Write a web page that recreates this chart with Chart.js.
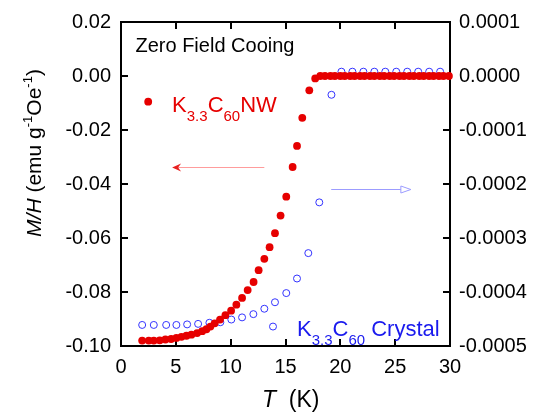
<!DOCTYPE html>
<html>
<head>
<meta charset="utf-8">
<script src="https://cdn.jsdelivr.net/npm/chart.js@4.4.1/dist/chart.umd.min.js"></script>
<style>
  html, body { margin: 0; padding: 0; background: #fff; }
  canvas { display: block; }
</style>
</head>
<body>
<canvas id="c" width="538" height="416"></canvas>
<script>
// K3.3C60 nanowire, M/H (emu g-1 Oe-1), left axis
const nwT = [1.93, 2.53, 2.99, 3.53, 4.05, 4.57, 5.05, 5.51, 5.97, 6.42, 6.94, 7.40, 7.79, 8.15, 8.54,
  9.03, 9.52, 10.04, 10.52, 11.04, 11.55, 12.09, 12.55, 13.07, 13.55, 14.04, 14.55, 15.07, 15.65,
  16.05, 16.53, 17.17, 17.71, 18.17, 18.6, 19.1, 19.5, 20.0, 20.4, 20.9, 21.3, 21.8, 22.2, 22.7,
  23.1, 23.6, 24.0, 24.5, 24.9, 25.4, 25.8, 26.3, 26.7, 27.2, 27.6, 28.1, 28.5, 29.0, 29.4, 29.9];
const nwMH = [-0.0980, -0.0980, -0.0980, -0.0979, -0.0976, -0.0974, -0.0970, -0.0966, -0.0962, -0.0958,
  -0.0952, -0.0945, -0.0938, -0.0928, -0.0916, -0.0902, -0.0886, -0.0869, -0.0847, -0.0822, -0.0793,
  -0.0763, -0.0719, -0.0677, -0.0634, -0.0582, -0.0517, -0.0447, -0.0337, -0.0259, -0.0155, -0.0053,
  -0.0009, 0.0000, 0.0000, 0.0000, 0.0000, 0.0000, 0.0000, 0.0000, 0.0000, 0.0000, 0.0000, 0.0000,
  0.0000, 0.0000, 0.0000, 0.0000, 0.0000, 0.0000, 0.0000, 0.0000, 0.0000, 0.0000, 0.0000, 0.0000,
  0.0000, 0.0000, 0.0000, 0.0000];

// K3.3C60 crystal, right axis
const crT = [1.93, 2.99, 4.12, 5.05, 6.03, 7.03, 8.06, 9.06, 10.06, 11.04, 12.07, 13.07, 13.86, 14.04,
  15.07, 16.05, 17.08, 18.08, 19.19, 20.1, 21.1, 22.1, 23.1, 24.1, 25.1, 26.1, 27.1, 28.1, 29.1];
const crMH = [-0.000461, -0.000461, -0.000461, -0.000461, -0.000460, -0.000459, -0.000457, -0.000456,
  -0.000451, -0.000447, -0.000441, -0.000431, -0.000464, -0.000419, -0.000402, -0.000375, -0.000328,
  -0.000234, -0.0000348, 0.000008, 0.000008, 0.000008, 0.000008, 0.000008, 0.000008, 0.000008,
  0.000008, 0.000008, 0.000008];

const xTicks = [0, 5, 10, 15, 20, 25, 30];
const yTicks = [0.02, 0.00, -0.02, -0.04, -0.06, -0.08, -0.10];
const y2Ticks = [0.0001, 0.0000, -0.0001, -0.0002, -0.0003, -0.0004, -0.0005];

const FONT = "'Liberation Sans', Arial, Helvetica, sans-serif";
const RED = '#e60000';
const BLUE = '#3333ff';
const TEXT_BLUE = '#1a1aee';

const toPts = (xs, ys) => xs.map((x, i) => ({ x: x, y: ys[i] }));
const fmt = d => v => (Math.abs(v) < 1e-12 ? 0 : v).toFixed(d);

// draw a run of text pieces (sub/superscripts via dy), returns width
function rich(ctx, parts, x, y, color, measureOnly) {
  let cx = x;
  ctx.fillStyle = color;
  ctx.textBaseline = 'alphabetic';
  ctx.textAlign = 'left';
  for (const p of parts) {
    ctx.font = (p.it ? 'italic ' : '') + p.s + 'px ' + FONT;
    if (!measureOnly) ctx.fillText(p.t, cx, y + (p.dy || 0));
    cx += ctx.measureText(p.t).width;
  }
  return cx - x;
}

function drawFrame(chart) {
  const ctx = chart.ctx;
  const a = chart.chartArea;
  const sx = chart.scales.x, sy = chart.scales.y, sy2 = chart.scales.y2;
  const L = 7;
  ctx.save();
  ctx.fillStyle = '#000';
  // inward tick marks as small filled bars
  xTicks.slice(1, -1).forEach(v => {
    const px = Math.round(sx.getPixelForValue(v));
    ctx.fillRect(px - 1, a.bottom - L, 2, L);
    ctx.fillRect(px - 1, a.top, 2, L);
  });
  yTicks.slice(1, -1).forEach(v => {
    const py = Math.round(sy.getPixelForValue(v));
    ctx.fillRect(a.left, py - 1, L, 2);
  });
  y2Ticks.slice(1, -1).forEach(v => {
    const py = Math.round(sy2.getPixelForValue(v));
    ctx.fillRect(a.right - L, py - 1, L, 2);
  });
  ctx.strokeStyle = '#000';
  ctx.lineWidth = 2;
  ctx.strokeRect(a.left, a.top, a.right - a.left, a.bottom - a.top);
  ctx.restore();
}

const decor = {
  id: 'decor',
  beforeDatasetsDraw(chart) {
    drawFrame(chart);
  },
  afterDatasetsDraw(chart) {
    const ctx = chart.ctx;
    const sx = chart.scales.x, sy = chart.scales.y, sy2 = chart.scales.y2;
    ctx.save();

    rich(ctx, [{ t: 'Zero Field Cooing', s: 20 }], sx.getPixelForValue(1.32), sy.getPixelForValue(0.0089), '#000');

    // legend marker + label for nanowire
    ctx.fillStyle = RED;
    ctx.beginPath();
    ctx.arc(sx.getPixelForValue(2.48), sy.getPixelForValue(-0.00952), 3.9, 0, Math.PI * 2);
    ctx.fill();
    rich(ctx, [
      { t: 'K', s: 22 }, { t: '3.3', s: 15, dy: 9 }, { t: 'C', s: 22 }, { t: '60', s: 15, dy: 9 }, { t: 'NW', s: 22 }
    ], sx.getPixelForValue(4.66), sy.getPixelForValue(-0.01322), RED);

    rich(ctx, [
      { t: 'K', s: 22 }, { t: '3.3', s: 15, dy: 9 }, { t: 'C', s: 22 }, { t: '60', s: 15, dy: 9 }, { t: ' Crystal', s: 22 }
    ], sx.getPixelForValue(16.05), sy2.getPixelForValue(-0.000481), TEXT_BLUE);

    // red arrow -> left axis
    let y = Math.round(sy.getPixelForValue(-0.03359)) + 0.5;
    let tail = sx.getPixelForValue(13.07), head = sx.getPixelForValue(4.66);
    ctx.strokeStyle = '#ff9c9c';
    ctx.lineWidth = 1;
    ctx.beginPath(); ctx.moveTo(tail, y); ctx.lineTo(head + 5, y); ctx.stroke();
    ctx.fillStyle = '#e82020';
    ctx.beginPath();
    ctx.moveTo(head, y); ctx.lineTo(head + 9, y - 4); ctx.lineTo(head + 6, y); ctx.lineTo(head + 9, y + 4);
    ctx.closePath(); ctx.fill();

    // blue arrow -> right axis
    y = Math.round(sy2.getPixelForValue(-0.000210)) + 0.5;
    tail = sx.getPixelForValue(19.17); head = sx.getPixelForValue(26.43);
    ctx.strokeStyle = '#9c9cff';
    ctx.beginPath(); ctx.moveTo(tail, y); ctx.lineTo(head - 10, y); ctx.stroke();
    ctx.beginPath();
    ctx.moveTo(head, y); ctx.lineTo(head - 10, y - 3.5); ctx.lineTo(head - 10, y + 3.5);
    ctx.closePath(); ctx.stroke();

    ctx.restore();
  },
  afterDraw(chart) {
    const ctx = chart.ctx;
    ctx.save();
    // y title, rotated
    const parts = [
      { t: 'M/H', s: 21, it: true }, { t: ' (emu g', s: 21 }, { t: '-1', s: 13, dy: -9 },
      { t: 'Oe', s: 21 }, { t: '-1', s: 13, dy: -9 }, { t: ')', s: 21 }
    ];
    const w = rich(ctx, parts, 0, 0, '#000', true);
    ctx.translate(41, 153);
    ctx.rotate(-Math.PI / 2);
    rich(ctx, parts, -w / 2, 0, '#000');
    ctx.restore();
    ctx.save();
    rich(ctx, [{ t: 'T', s: 23, it: true }, { t: '  (K)', s: 23 }], 262, 407, '#000');
    ctx.restore();
  }
};

new Chart(document.getElementById('c'), {
  type: 'scatter',
  data: {
    datasets: [
      {
        label: 'K3.3C60 NW',
        data: toPts(nwT, nwMH),
        yAxisID: 'y',
        pointStyle: 'circle',
        pointRadius: 3.9,
        backgroundColor: RED,
        borderColor: RED,
        borderWidth: 0,
        clip: false
      },
      {
        label: 'K3.3C60 Crystal',
        data: toPts(crT, crMH),
        yAxisID: 'y2',
        pointStyle: 'circle',
        pointRadius: 3.5,
        backgroundColor: 'rgba(0,0,0,0)',
        borderColor: BLUE,
        borderWidth: 1,
        clip: false
      }
    ]
  },
  options: {
    responsive: false,
    animation: false,
    devicePixelRatio: 1,
    layout: { padding: { top: 22, left: 0, right: 0, bottom: 0 } },
    plugins: { legend: { display: false }, tooltip: { enabled: false } },
    scales: {
      x: {
        type: 'linear', position: 'bottom', min: 0, max: 30,
        afterBuildTicks: s => { s.ticks = xTicks.map(v => ({ value: v })); },
        afterFit: s => { s.height = 70; },
        grid: { display: false, drawTicks: false }, border: { display: false },
        ticks: { color: '#000', font: { family: FONT, size: 20 }, padding: 9, autoSkip: false, maxRotation: 0, callback: v => String(v) }
      },
      y: {
        type: 'linear', position: 'left', min: -0.10, max: 0.02,
        afterBuildTicks: s => { s.ticks = yTicks.map(v => ({ value: v })); },
        afterFit: s => { s.width = 121; },
        grid: { display: false, drawTicks: false }, border: { display: false },
        ticks: { color: '#000', font: { family: FONT, size: 20 }, padding: 10, autoSkip: false, callback: fmt(2) }
      },
      y2: {
        type: 'linear', position: 'right', min: -0.0005, max: 0.0001,
        afterBuildTicks: s => { s.ticks = y2Ticks.map(v => ({ value: v })); },
        afterFit: s => { s.width = 88; },
        grid: { display: false, drawTicks: false }, border: { display: false },
        ticks: { color: '#000', font: { family: FONT, size: 20 }, padding: 9, autoSkip: false, callback: fmt(4) }
      }
    }
  },
  plugins: [decor]
});
</script>
</body>
</html>
